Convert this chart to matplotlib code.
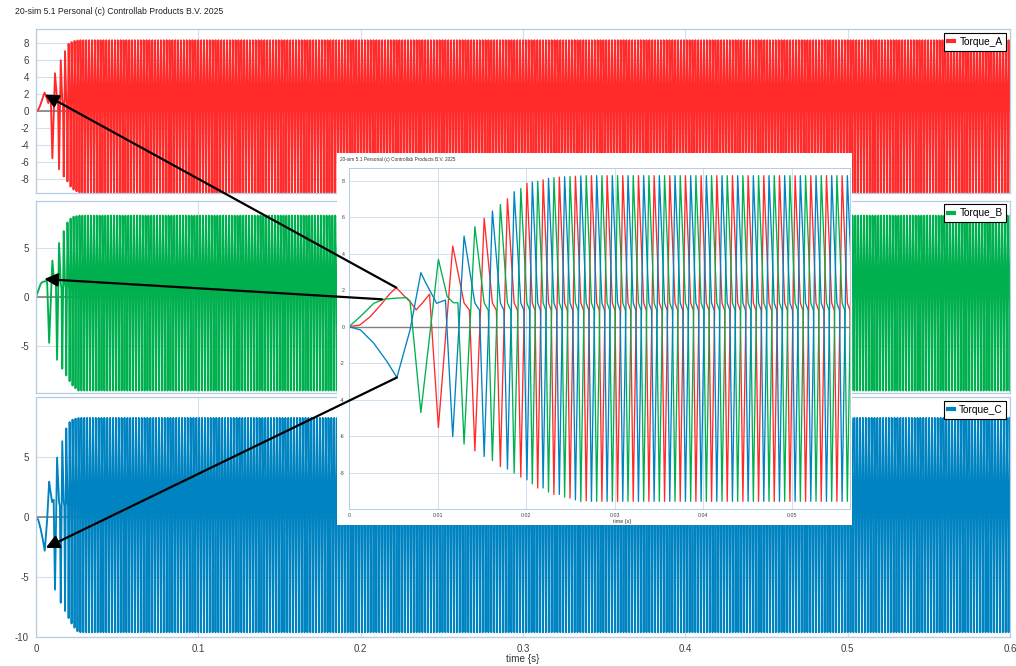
import numpy as np
import matplotlib.pyplot as plt
from matplotlib.patches import Rectangle, ConnectionPatch
from matplotlib.lines import Line2D

plt.rcParams['font.family'] = ['Liberation Sans', 'DejaVu Sans']
plt.rcParams['axes.unicode_minus'] = False

event_times = [0.00534, 0.00812, 0.0101, 0.01172, 0.0130, 0.01422, 0.01527, 0.0162,
               0.0171, 0.0179, 0.01866, 0.01941, 0.0201, 0.02071, 0.02132, 0.02193,
               0.02254, 0.02315, 0.02376, 0.02436, 0.02497, 0.02558, 0.02619, 0.0268]
steady_step = 0.00059
t_end = 0.6
steady_peak = 8.28
steady_trough = -9.58
mid_val = 1.3
shoulder_val = 0.9

# Begin van elk signaal
red_early_t = [0, 0.0012, 0.0024, 0.0036, 0.0046, 0.00534, 0.0062, 0.0069, 0.0076, 0.0083, 0.0091, 0.0101]
red_early_v = [0, 0.08, 0.55, 1.2, 1.8, 2.14, 1.7, 1.37, 0.92, 1.3, 1.78, -5.53]
red_peaks = [4.42, 5.94, 7.01, 7.86, 8.05, 8.2, 8.25]
red_troughs = [-6.81, -7.67, -8.25, -8.85, -9.2, -9.4, -9.55]

green_early_t = [0, 0.00128, 0.0028, 0.0039, 0.0052, 0.0065, 0.0069, 0.00812, 0.0101, 0.0111, 0.0118, 0.0123, 0.0130]
green_early_v = [0, 0.55, 1.28, 1.5, 1.56, 1.59, 1.4, -4.71, 3.69, 1.64, 1.31, 1.31, -6.44]
green_peaks = [5.48, 6.7, 7.58, 7.98, 8.17, 8.23, 8.28]
green_troughs = [-7.34, -8.03, -8.62, -9.07, -9.35, -9.59]

blue_early_t = [0, 0.0013, 0.0028, 0.0043, 0.00541, 0.0069, 0.00812, 0.0086, 0.0099, 0.0109, 0.01172]
blue_early_v = [0, -0.18, -0.91, -1.92, -2.79, -0.18, 2.96, 2.47, 1.28, 1.46, -6.03]
blue_peaks = [4.97, 6.34, 7.4, 7.93, 8.13, 8.22, 8.27]
blue_troughs = [-7.12, -7.81, -8.4, -8.85, -9.2, -9.5]

names = ['Torque_A', 'Torque_B', 'Torque_C']
colors = ['#ff2a2a', '#00b04f', '#0083c1']
ylims = [9.6, 9.8, 10.0]
yticks = [[-8, -6, -4, -2, 0, 2, 4, 6, 8], [-5, 0, 5], [-10, -5, 0, 5]]
xticks = [0, 0.1, 0.2, 0.3, 0.4, 0.5, 0.6]
xticklabels = ['0', '0.1', '0.2', '0.3', '0.4', '0.5', '0.6']

# Pijlen: punt in de inzoom -> punt in het hoofdplot
arrow_from = [(0.00534, 2.14), (0.00372, 1.5), (0.00541, -2.79)]
arrow_to = [(0.0055, 1.92), (0.0051, 1.8), (0.006, -2.55)]


# Zet de toppen en dalen van een fase achter elkaar tot t_end
def buildSeries(early_t, early_v, peaks, troughs, first_k, ev):
    t = list(early_t)
    v = list(early_v)
    k = first_k
    i = 0
    while k + 3 < len(ev):
        pk = peaks[i] if i < len(peaks) else steady_peak
        tr = troughs[i] if i < len(troughs) else steady_trough
        t += [ev[k + 1], ev[k + 2], ev[k + 2] + 0.5 * (ev[k + 3] - ev[k + 2]), ev[k + 3]]
        v += [pk, mid_val, shoulder_val, tr]
        k += 3
        i += 1
    return np.array(t), np.array(v)


ev = np.array(event_times + list(np.arange(event_times[-1] + steady_step, t_end + 3 * steady_step, steady_step)))
series = [buildSeries(red_early_t, red_early_v, red_peaks, red_troughs, 2, ev),
          buildSeries(green_early_t, green_early_v, green_peaks, green_troughs, 4, ev),
          buildSeries(blue_early_t, blue_early_v, blue_peaks, blue_troughs, 3, ev)]

spine_col = '#b4cde4'
grid_col = '#cfe0f0'

fig = plt.figure(figsize=(10.16, 6.66), dpi=100)
fig.text(15 / 1016, 1 - 11 / 666, '20-sim 5.1 Personal (c) Controllab Products B.V. 2025',
         fontsize=6.2, color='#222222', va='center')

panels = [(0.7102, 0.2463), (0.4104, 0.2882), (0.0431, 0.3604)]
axes = []
for n, (bottom, height) in enumerate(panels):
    ax = fig.add_axes([0.0354, bottom, 0.9587, height])
    t, v = series[n]
    ax.axhline(0, color='#808080', lw=1.2, zorder=1.5)
    ax.plot(t, v, color=colors[n], lw=1.35, zorder=2)
    ax.set_xlim(0, 0.6)
    ax.set_ylim(-ylims[n], ylims[n])
    ax.set_yticks(yticks[n])
    ax.set_xticks(xticks)
    if n == 2:
        ax.set_xticklabels(xticklabels)
        ax.set_xlabel('time {s}', fontsize=7.2, color='#333333', labelpad=0)
    else:
        ax.set_xticklabels([])
    ax.tick_params(length=0, labelsize=7, colors='#404040', pad=5)
    ax.grid(True, color=grid_col, lw=0.8)
    ax.set_axisbelow(True)
    for s in ax.spines.values():
        s.set_color(spine_col)
        s.set_linewidth(0.9)
    leg = ax.legend([Line2D([], [], color=colors[n], lw=3)], [names[n]], loc='upper right',
                    handlelength=0.6, handletextpad=0.5, fancybox=False, edgecolor='black',
                    framealpha=1, fontsize=7.3, borderpad=0.4, borderaxespad=0.35)
    leg.get_frame().set_linewidth(0.8)
    axes.append(ax)

# Inzoom op het begin
fig.add_artist(Rectangle((337 / 1016, 1 - 525 / 666), 515 / 1016, 372 / 666,
                         transform=fig.transFigure, facecolor='white', edgecolor='none', zorder=5))
fig.text(340 / 1016, 1 - 160 / 666, '20-sim 5.1 Personal (c) Controllab Products B.V. 2025',
         fontsize=3.4, color='#333333', va='center', zorder=7)
ax_in = fig.add_axes([349 / 1016, 1 - 509 / 666, 501 / 1016, 341 / 666], zorder=6)
ax_in.axhline(0, color='#808080', lw=1.0, zorder=1.5)
for n in range(3):
    t, v = series[n]
    ax_in.plot(t, v, color=colors[n], lw=0.95, zorder=2)
ax_in.set_xlim(0, 0.0566)
ax_in.set_ylim(-10, 8.7)
ax_in.set_yticks([-8, -6, -4, -2, 0, 2, 4, 6, 8])
ax_in.set_xticks([0, 0.01, 0.02, 0.03, 0.04, 0.05])
ax_in.set_xticklabels(['0', '0.01', '0.02', '0.03', '0.04', '0.05'])
ax_in.tick_params(length=0, labelsize=3.8, colors='#404040', pad=3)
ax_in.set_xlabel('time {s}', fontsize=3.9, color='#333333', labelpad=1)
ax_in.xaxis.set_label_coords((622 - 349) / 501, -0.03)
ax_in.grid(True, color=grid_col, lw=0.7)
ax_in.set_axisbelow(True)
for s in ax_in.spines.values():
    s.set_color(spine_col)
    s.set_linewidth(0.7)

for n in range(3):
    con = ConnectionPatch(xyA=arrow_from[n], coordsA=ax_in.transData,
                          xyB=arrow_to[n], coordsB=axes[n].transData,
                          arrowstyle='-|>', mutation_scale=20, lw=1.6, color='black',
                          shrinkA=0, shrinkB=0, zorder=10)
    fig.add_artist(con)

plt.savefig('out.png', dpi=100)
